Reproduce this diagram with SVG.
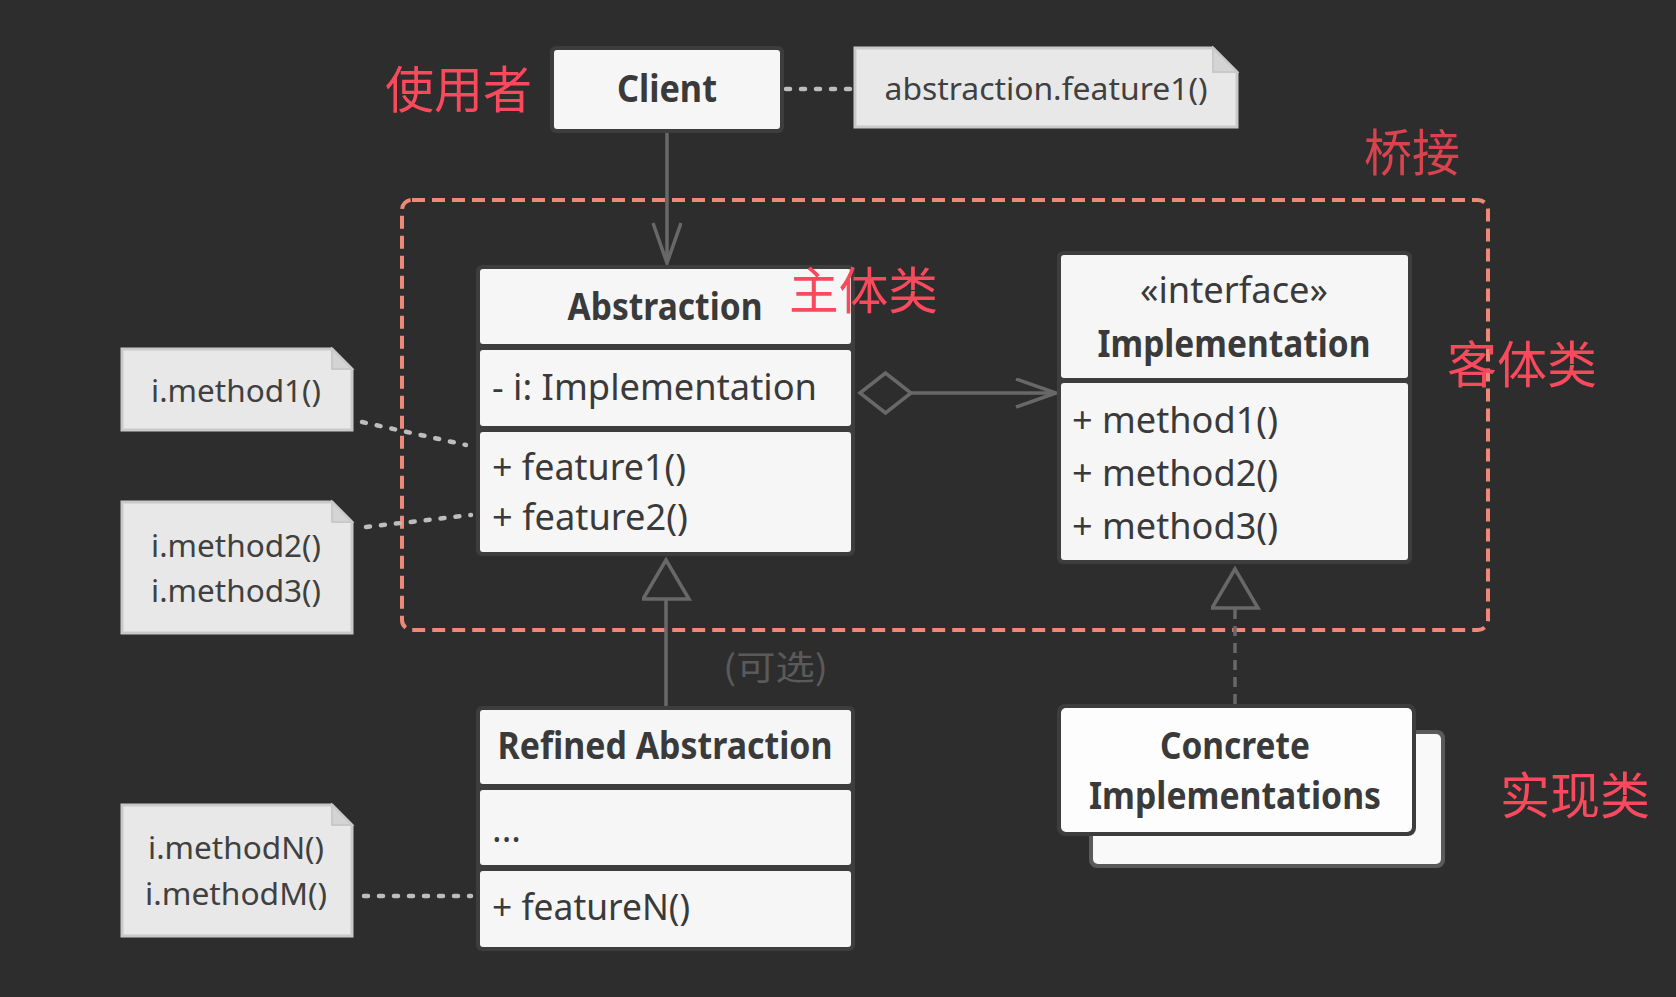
<svg xmlns="http://www.w3.org/2000/svg" width="1676" height="997" viewBox="0 0 1676 997">
<defs>
<style>
.bg{fill:#2d2d2d}
.frame{fill:#3d3d3d}
.comp{fill:#f6f6f6}
.note{fill:#e8e8e8;stroke:#c9c9c9;stroke-width:3}
.fold{fill:#d4d4d4;stroke:#c9c9c9;stroke-width:2}
.t{font-family:"Noto Sans","Liberation Sans",sans-serif;fill:#3a3a3a}
.b{font-weight:bold;font-size:38px}
.r{font-size:36px}
.n{font-size:31px;fill:#404040}
.red{font-family:"Noto Sans CJK SC","Noto Sans",sans-serif;font-size:50px;fill:#f84a5c}
.line{stroke:#686868;stroke-width:3.5;fill:none}
.dot{stroke:#bdbdbd;stroke-width:4.5;stroke-dasharray:4 11;stroke-linecap:round;fill:none}
</style>
<marker id="open" markerUnits="userSpaceOnUse" markerWidth="50" markerHeight="36" refX="41" refY="15" orient="auto">
<path d="M1,1 L41,15 L1,29" fill="none" stroke="#686868" stroke-width="3.5"/>
</marker>
<marker id="tri" markerUnits="userSpaceOnUse" markerWidth="50" markerHeight="56" refX="41" refY="24" orient="auto">
<path d="M2,1 L41,24 L2,47 Z" fill="#2d2d2d" stroke="#686868" stroke-width="3.5" stroke-linejoin="miter"/>
</marker>
</defs>
<rect class="bg" x="0" y="0" width="1676" height="997"/>

<g id="bridge-boundary">
<rect x="402" y="200" width="1086" height="430" rx="10" fill="none" stroke="#f08878" stroke-width="4" stroke-dasharray="13 7"/>
</g>

<g id="connectors">
<line class="dot" x1="786" y1="89" x2="852" y2="89"/>
<line class="line" x1="667" y1="133" x2="667" y2="263" marker-end="url(#open)"/>
<polygon points="860,393 885.5,373 911,393 885.5,413" fill="none" stroke="#686868" stroke-width="3.5"/>
<line class="line" x1="911" y1="393" x2="1056" y2="393" marker-end="url(#open)"/>
<line class="dot" x1="362" y1="422" x2="466" y2="445"/>
<line class="dot" x1="366" y1="527" x2="471" y2="515"/>
<line class="dot" x1="364" y1="896" x2="471" y2="896"/>
<line class="line" x1="666" y1="706" x2="666" y2="560" marker-end="url(#tri)"/>
<line class="line" x1="1235" y1="704" x2="1235" y2="569" stroke-dasharray="10 7" marker-end="url(#tri)"/>
</g>

<g id="client">
<rect class="frame" x="550" y="46" width="234" height="87" rx="6"/>
<rect class="comp" x="554" y="50" width="226" height="79" rx="3"/>
<text class="t b" x="667" y="102" text-anchor="middle" textLength="100" lengthAdjust="spacingAndGlyphs">Client</text>
</g>

<g id="label-user">
<text class="red" x="385" y="108" textLength="147" lengthAdjust="spacingAndGlyphs">使用者</text>
</g>

<g id="note-client">
<path class="note" d="M855,48 H1213 L1237,72 V127 H855 Z"/>
<path class="fold" d="M1213,48 V72 H1237 Z"/>
<text class="t n" x="1046" y="100" text-anchor="middle" textLength="323" lengthAdjust="spacingAndGlyphs">abstraction.feature1()</text>
</g>

<g id="label-bridge">
<text class="red" x="1364" y="171" fill="#d9434e" style="fill:#d9434e" textLength="96" lengthAdjust="spacingAndGlyphs">桥接</text>
</g>

<g id="abstraction">
<rect class="frame" x="476" y="265" width="379" height="291" rx="6"/>
<rect class="comp" x="480" y="269" width="371" height="75" rx="3"/>
<rect class="comp" x="480" y="350" width="371" height="76" rx="3"/>
<rect class="comp" x="480" y="432" width="371" height="120" rx="3"/>
<text class="t b" x="665" y="320" text-anchor="middle" textLength="195" lengthAdjust="spacingAndGlyphs">Abstraction</text>
<text class="t r" x="492" y="400" textLength="325" lengthAdjust="spacingAndGlyphs">- i: Implementation</text>
<text class="t r" x="492" y="480" textLength="194" lengthAdjust="spacingAndGlyphs">+ feature1()</text>
<text class="t r" x="492" y="530" textLength="196" lengthAdjust="spacingAndGlyphs">+ feature2()</text>
</g>

<g id="label-main">
<text class="red" x="789" y="309" textLength="149" lengthAdjust="spacingAndGlyphs">主体类</text>
</g>

<g id="implementation">
<rect class="frame" x="1057" y="251" width="355" height="313" rx="6"/>
<rect class="comp" x="1061" y="255" width="347" height="123" rx="3"/>
<rect class="comp" x="1061" y="383" width="347" height="177" rx="3"/>
<text class="t r" x="1234" y="303" text-anchor="middle" textLength="188" lengthAdjust="spacingAndGlyphs">«interface»</text>
<text class="t b" x="1234" y="357" text-anchor="middle" textLength="273" lengthAdjust="spacingAndGlyphs">Implementation</text>
<text class="t r" x="1072" y="433" textLength="206" lengthAdjust="spacingAndGlyphs">+ method1()</text>
<text class="t r" x="1072" y="486" textLength="206" lengthAdjust="spacingAndGlyphs">+ method2()</text>
<text class="t r" x="1072" y="539" textLength="206" lengthAdjust="spacingAndGlyphs">+ method3()</text>
</g>

<g id="label-guest">
<text class="red" x="1447" y="383" textLength="150" lengthAdjust="spacingAndGlyphs">客体类</text>
</g>

<g id="note-method1">
<path class="note" d="M122,349 H332 L352,369 V430 H122 Z"/>
<path class="fold" d="M332,349 V369 H352 Z"/>
<text class="t n" x="236" y="402" text-anchor="middle" textLength="170" lengthAdjust="spacingAndGlyphs">i.method1()</text>
</g>

<g id="note-method23">
<path class="note" d="M122,502 H332 L352,522 V633 H122 Z"/>
<path class="fold" d="M332,502 V522 H352 Z"/>
<text class="t n" x="236" y="557" text-anchor="middle" textLength="170" lengthAdjust="spacingAndGlyphs">i.method2()</text>
<text class="t n" x="236" y="602" text-anchor="middle" textLength="170" lengthAdjust="spacingAndGlyphs">i.method3()</text>
</g>

<g id="note-methodNM">
<path class="note" d="M122,805 H332 L352,825 V936 H122 Z"/>
<path class="fold" d="M332,805 V825 H352 Z"/>
<text class="t n" x="236" y="859" text-anchor="middle" textLength="176" lengthAdjust="spacingAndGlyphs">i.methodN()</text>
<text class="t n" x="236" y="905" text-anchor="middle" textLength="182" lengthAdjust="spacingAndGlyphs">i.methodM()</text>
</g>

<g id="label-optional">
<text x="723" y="680" font-family="Noto Sans CJK SC, Noto Sans, sans-serif" font-size="34" fill="#5a5a5a" textLength="105" lengthAdjust="spacingAndGlyphs">(可选)</text>
</g>

<g id="refined-abstraction">
<rect class="frame" x="476" y="706" width="379" height="245" rx="6"/>
<rect class="comp" x="480" y="710" width="371" height="74" rx="3"/>
<rect class="comp" x="480" y="790" width="371" height="75" rx="3"/>
<rect class="comp" x="480" y="871" width="371" height="76" rx="3"/>
<text class="t b" x="665" y="759" text-anchor="middle" textLength="335" lengthAdjust="spacingAndGlyphs">Refined Abstraction</text>
<text class="t r" x="492" y="842">...</text>
<text class="t r" x="492" y="920" textLength="198" lengthAdjust="spacingAndGlyphs">+ featureN()</text>
</g>

<g id="concrete-implementations">
<rect x="1089" y="730" width="356" height="138" rx="8" fill="#5a5a5a"/>
<rect x="1093" y="734" width="348" height="130" rx="5" fill="#f9f9f9"/>
<rect class="frame" x="1057" y="704" width="359" height="132" rx="8"/>
<rect x="1061" y="708" width="351" height="124" rx="5" fill="#fdfdfd"/>
<text class="t b" x="1235" y="759" text-anchor="middle" textLength="150" lengthAdjust="spacingAndGlyphs">Concrete</text>
<text class="t b" x="1235" y="809" text-anchor="middle" textLength="292" lengthAdjust="spacingAndGlyphs">Implementations</text>
</g>

<g id="label-impl">
<text class="red" x="1500" y="814" textLength="150" lengthAdjust="spacingAndGlyphs">实现类</text>
</g>
</svg>
